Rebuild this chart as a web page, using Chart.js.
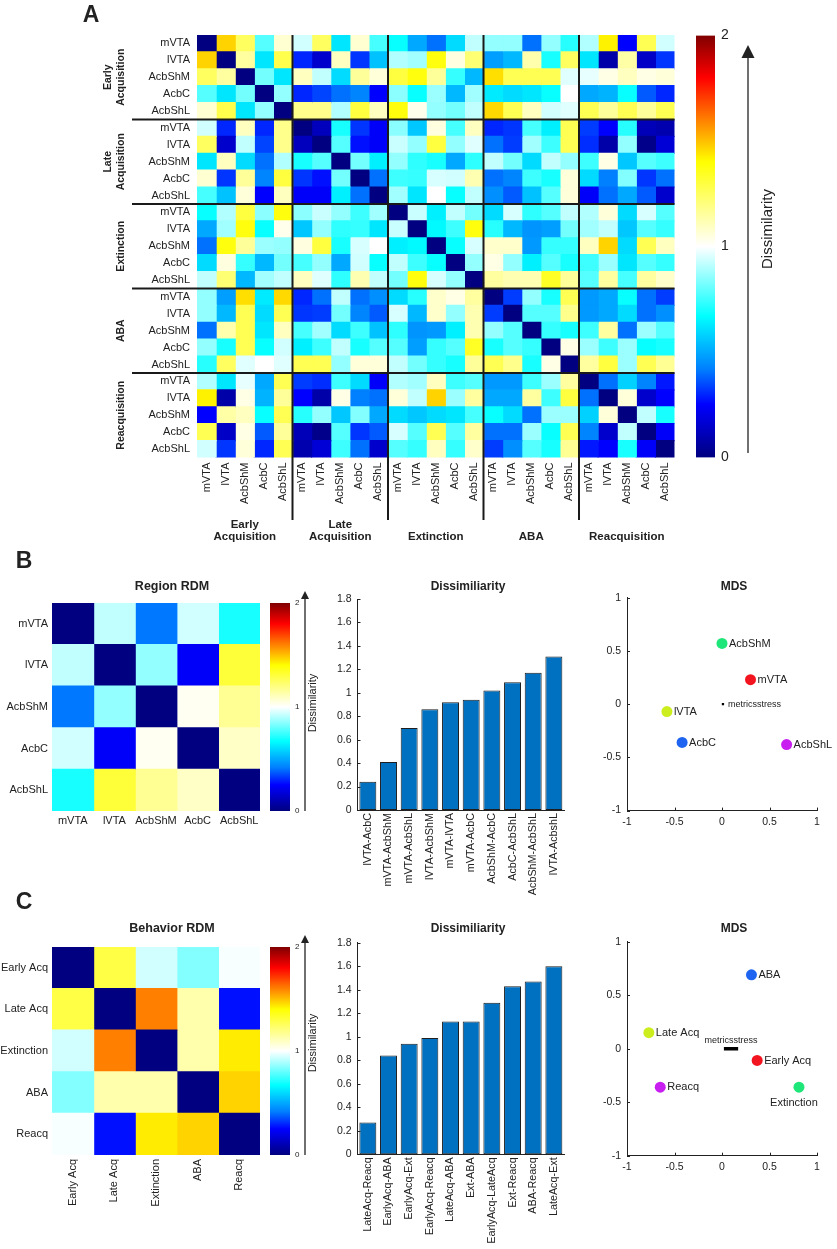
<!DOCTYPE html>
<html>
<head>
<meta charset="utf-8">
<script src="https://cdn.jsdelivr.net/npm/chart.js@4.4.1/dist/chart.umd.min.js"></script>
<style>
  html, body { margin: 0; padding: 0; background: #fff; }
  #page { position: relative; width: 837px; height: 1249px; overflow: hidden; background: #fff; }
  canvas { position: absolute; }
</style>
</head>
<body>
<div id="page"></div>
<script>
// ---------- data ----------
const regions = ['mVTA', 'lVTA', 'AcbShM', 'AcbC', 'AcbShL'];
const phases = ['Early Acquisition', 'Late Acquisition', 'Extinction', 'ABA', 'Reacquisition'];
const phaseLines = [['Early', 'Acquisition'], ['Late', 'Acquisition'], ['Extinction'], ['ABA'], ['Reacquisition']];
const phasesShort = ['Early Acq', 'Late Acq', 'Extinction', 'ABA', 'Reacq'];

// panel A, upper triangle: row r holds columns r+1 .. 24
const upperA = [
  [1.47, 1.25, 0.78, 1.07, 0.94, 1.25, 0.62, 1.07, 0.76, 0.68, 0.5, 0.4, 0.6, 0.92, 0.86, 0.86, 0.4, 0.86, 0.72, 0.9, 1.42, 0.25, 1.27, 0.94],
  [1.15, 0.62, 1.28, 0.3, 0.15, 1.1, 0.32, 0.55, 0.9, 0.88, 1.38, 1.05, 1.22, 0.48, 0.53, 1.13, 0.7, 1.25, 0.62, 0.08, 1.14, 0.14, 0.32],
  [0.82, 0.62, 1.1, 0.92, 0.6, 1.16, 1.06, 1.3, 1.38, 1.16, 0.74, 0.53, 1.45, 1.27, 1.27, 1.27, 0.96, 0.97, 1.04, 1.1, 1.04, 1.06],
  [0.86, 0.3, 0.34, 0.4, 0.43, 0.25, 0.85, 0.68, 0.87, 0.53, 0.88, 0.63, 0.6, 0.62, 0.68, 1.0, 0.5, 0.52, 0.68, 0.37, 0.3],
  [1.18, 1.18, 0.9, 1.3, 1.1, 1.38, 1.03, 0.86, 0.82, 0.92, 1.46, 1.27, 1.1, 0.94, 0.96, 1.27, 1.16, 1.27, 1.16, 1.27],
  [0.12, 0.7, 0.32, 0.24, 0.85, 0.56, 1.05, 0.76, 1.1, 0.3, 0.32, 0.76, 0.64, 1.27, 0.33, 0.25, 0.72, 0.11, 0.09],
  [0.78, 0.27, 0.24, 0.93, 0.86, 1.3, 0.86, 0.96, 0.4, 0.33, 0.88, 0.75, 1.27, 0.31, 0.08, 0.86, 0.02, 0.17],
  [0.82, 0.64, 0.86, 0.73, 0.7, 0.5, 0.73, 0.92, 0.82, 0.6, 0.92, 0.86, 0.75, 1.04, 0.56, 0.78, 0.75],
  [0.4, 0.75, 0.74, 0.95, 0.94, 1.12, 0.4, 0.43, 0.75, 0.7, 1.06, 0.6, 0.42, 0.84, 0.32, 0.4],
  [0.88, 0.62, 1.0, 0.68, 0.92, 0.45, 0.37, 0.55, 0.78, 1.06, 0.24, 0.4, 0.5, 0.37, 0.15],
  [0.93, 0.64, 0.92, 0.82, 0.6, 0.95, 0.73, 0.78, 0.92, 0.9, 1.06, 0.6, 0.95, 0.78],
  [0.66, 0.75, 1.38, 0.72, 0.53, 0.46, 0.48, 0.82, 0.88, 0.92, 0.56, 0.78, 0.74],
  [0.68, 0.95, 1.08, 1.08, 0.47, 0.74, 0.74, 1.1, 1.47, 0.6, 1.27, 1.1],
  [0.86, 1.04, 0.86, 0.64, 0.78, 0.7, 0.75, 0.87, 0.62, 0.78, 0.74],
  [1.15, 1.12, 1.12, 1.34, 1.16, 0.78, 1.15, 0.76, 1.15, 1.08],
  [0.33, 0.86, 0.7, 1.27, 0.47, 0.5, 0.68, 0.4, 0.33],
  [0.78, 0.78, 1.18, 0.47, 0.5, 0.6, 0.4, 0.45],
  [0.74, 0.7, 0.75, 1.15, 0.4, 0.87, 0.78],
  [1.04, 0.87, 0.75, 0.87, 0.68, 0.7],
  [1.15, 1.3, 0.87, 1.27, 1.17],
  [0.4, 0.58, 0.43, 0.28],
  [1.06, 0.15, 0.25],
  [0.92, 0.7],
  [0.24]
];

const upperRegion = [[0.92, 0.41, 0.94, 0.70], [0.86, 0.24, 1.31], [1.02, 1.17], [1.09]];
const upperBehavior = [[1.29, 0.94, 0.84, 0.99], [1.60, 1.13, 0.27], [1.13, 1.43], [1.47]];

const barLabelsB = ['lVTA-AcbC', 'mVTA-AcbShM', 'mVTA-AcbShL', 'lVTA-AcbShM', 'mVTA-lVTA', 'mVTA-AcbC', 'AcbShM-AcbC', 'AcbC-AcbShL', 'AcbShM-AcbShL', 'lVTA-AcbshL'];
const barValuesB = [0.24, 0.41, 0.70, 0.86, 0.92, 0.94, 1.02, 1.09, 1.17, 1.31];
const barLabelsC = ['LateAcq-Reacq', 'EarlyAcq-ABA', 'EarlyAcq-Ext', 'EarlyAcq-Reacq', 'LateAcq-ABA', 'Ext-ABA', 'EarlyAcq-LateAcq', 'Ext-Reacq', 'ABA-Reacq', 'LateAcq-Ext'];
const barValuesC = [0.27, 0.84, 0.94, 0.99, 1.13, 1.13, 1.29, 1.43, 1.47, 1.60];

const mdsXB = [0.30, -0.58, 0.00, -0.42, 0.68];
const mdsYB = [0.23, -0.07, 0.57, -0.36, -0.38];
const mdsXC = [0.37, -0.77, 0.81, 0.31, -0.65];
const mdsYC = [-0.11, 0.15, -0.36, 0.69, -0.36];
const stressB = [[0.01, 0]];
const stressC = [[0.02, 0], [0.17, 0]];

// ---------- styles ----------
const FONT = 'Arial, "Liberation Sans", Helvetica, sans-serif';
const INK = '#222';
const pointColors = ['#f2141e', '#cdee1e', '#1ee678', '#1e64f0', '#c81ef0'];
const cmapVals = [0, 0.25, 0.42, 0.67, 1, 1.4, 1.6, 1.8, 2];
const cmapRGB = [[0, 0, 128], [0, 0, 255], [0, 128, 255], [0, 255, 255], [255, 255, 255], [255, 255, 0], [255, 128, 0], [255, 0, 0], [128, 0, 0]];

Chart.defaults.font.family = FONT;
Chart.defaults.color = INK;

function cmap(v) {
  v = Math.max(0, Math.min(2, v));
  let i = 0;
  while (i < cmapVals.length - 2 && v > cmapVals[i + 1]) i++;
  const t = (v - cmapVals[i]) / (cmapVals[i + 1] - cmapVals[i]);
  const a = cmapRGB[i], b = cmapRGB[i + 1];
  return 'rgb(' + a.map((x, k) => Math.round(x + (b[k] - x) * t)).join(',') + ')';
}

function fullMatrix(upper) {
  const n = upper.length + 1;
  const m = Array.from({length: n}, () => new Array(n).fill(0));
  upper.forEach((row, r) => row.forEach((v, j) => {
    m[r][r + 1 + j] = v;
    m[r + 1 + j][r] = v;
  }));
  return m;
}

function addCanvas(left, top, w, h) {
  const c = document.createElement('canvas');
  c.width = w; c.height = h;
  c.style.left = left + 'px'; c.style.top = top + 'px';
  c.style.width = w + 'px'; c.style.height = h + 'px';
  document.getElementById('page').appendChild(c);
  return c;
}

function text(ctx, s, x, y, font, align, rot) {
  ctx.save();
  ctx.font = font;
  ctx.fillStyle = INK;
  ctx.textAlign = align || 'center';
  ctx.textBaseline = 'middle';
  ctx.translate(x, y);
  if (rot) ctx.rotate(rot);
  ctx.fillText(s, 0, 0);
  ctx.restore();
}

function baseOptions(padding) {
  return {
    animation: false,
    responsive: false,
    devicePixelRatio: 1,
    layout: { padding },
    plugins: { legend: { display: false }, tooltip: { enabled: false } }
  };
}

//------------------------------------------------------------
// Heatmap: one stacked horizontal bar per column

function heatmap(canvas, matrix, rowNames, colNames, opt) {
  const n = matrix.length;
  const datasets = [];
  for (let c = 0; c < n; c++) {
    datasets.push({
      data: matrix.map(() => 1),
      backgroundColor: matrix.map(row => cmap(row[c])),
      borderWidth: 0,
      inflateAmount: 0.6,
      barPercentage: 1,
      categoryPercentage: 1
    });
  }
  const options = baseOptions(opt.padding);
  options.indexAxis = 'y';
  options.scales = {
    x: {
      type: 'linear', stacked: true, min: 0, max: n,
      grid: { display: false, drawTicks: false }, border: { display: false },
      afterBuildTicks: s => { s.ticks = colNames.map((_, i) => ({ value: i + 0.5 })); },
      ticks: {
        autoSkip: false, minRotation: opt.rot, maxRotation: opt.rot, padding: opt.xPad,
        font: { size: 11 }, color: INK, callback: (v, i) => colNames[i]
      },
      afterFit: s => { s.height = opt.xH; s.paddingLeft = 0; s.paddingRight = 0; }
    },
    y: {
      type: 'category', stacked: true,
      grid: { display: false, drawTicks: false }, border: { display: false },
      ticks: { autoSkip: false, padding: opt.yPad, font: { size: 11 }, color: INK, callback: (v, i) => rowNames[i] },
      afterFit: s => { s.width = opt.yW; s.paddingTop = 0; s.paddingBottom = 0; }
    }
  };
  return new Chart(canvas, {
    type: 'bar',
    data: { labels: rowNames.map((_, i) => 'r' + i), datasets },
    options,
    plugins: [{ id: 'heatDecor', afterDraw: opt.decor }]
  });
}

// Colour bar: a floating bar filled with the colormap gradient

function colorbar(canvas, opt) {
  const options = baseOptions(opt.padding);
  options.scales = {
    x: { display: false },
    y: {
      position: 'right', min: 0, max: 2,
      grid: { display: false, drawTicks: false }, border: { display: false },
      ticks: { stepSize: 1, padding: opt.tickPad, font: { size: opt.fontSize }, color: INK },
      afterFit: s => { s.width = opt.axisW; s.paddingTop = 0; s.paddingBottom = 0; }
    }
  };
  return new Chart(canvas, {
    type: 'bar',
    data: {
      labels: ['cb'],
      datasets: [{
        data: [[0, 2]],
        borderWidth: 0,
        barPercentage: 1,
        categoryPercentage: 1,
        backgroundColor: (ctx) => {
          const chart = ctx.chart;
          if (!chart.chartArea) return '#fff';
          const y = chart.scales.y;
          const g = chart.ctx.createLinearGradient(0, y.getPixelForValue(0), 0, y.getPixelForValue(2));
          cmapVals.forEach(v => g.addColorStop(v / 2, cmap(v)));
          return g;
        }
      }]
    },
    options,
    plugins: [{
      id: 'cbDecor',
      afterDraw(chart) {
        const ctx = chart.ctx;
        const a = opt.arrow;
        ctx.save();
        ctx.strokeStyle = INK; ctx.fillStyle = INK; ctx.lineWidth = 1.3;
        ctx.beginPath(); ctx.moveTo(a.x, a.bottom); ctx.lineTo(a.x, a.tip + a.head); ctx.stroke();
        ctx.beginPath();
        ctx.moveTo(a.x, a.tip); ctx.lineTo(a.x - a.half, a.tip + a.head); ctx.lineTo(a.x + a.half, a.tip + a.head);
        ctx.closePath(); ctx.fill();
        ctx.restore();
        text(ctx, 'Dissimilarity', opt.label.x, opt.label.y, opt.label.size + 'px ' + FONT, 'center', -Math.PI / 2);
      }
    }]
  });
}

function inwardTicks(chart, axes) {
  const { ctx, chartArea: a } = chart;
  ctx.save();
  ctx.strokeStyle = INK; ctx.lineWidth = 1;
  if (axes.includes('y')) {
    const y = chart.scales.y;
    y.ticks.forEach(t => {
      const p = Math.round(y.getPixelForValue(t.value)) + 0.5;
      ctx.beginPath(); ctx.moveTo(a.left, p); ctx.lineTo(a.left + 3, p); ctx.stroke();
    });
  }
  if (axes.includes('x')) {
    const x = chart.scales.x;
    x.ticks.forEach(t => {
      const p = Math.round(x.getPixelForValue(t.value)) + 0.5;
      ctx.beginPath(); ctx.moveTo(p, a.bottom); ctx.lineTo(p, a.bottom - 3); ctx.stroke();
    });
  }
  ctx.restore();
}

// Bar chart of sorted pair dissimilarities

function barChart(canvas, labels, values, opt) {
  const options = baseOptions(opt.padding);
  options.scales = {
    x: {
      grid: { display: false, drawTicks: false }, border: { display: true, color: INK, width: 1 },
      ticks: { autoSkip: false, minRotation: 90, maxRotation: 90, padding: 3, font: { size: 10.8 }, color: INK },
      afterFit: s => { s.height = 90; s.paddingLeft = 0; s.paddingRight = 0; }
    },
    y: {
      min: 0, max: 1.8,
      grid: { display: false, drawTicks: false }, border: { display: true, color: INK, width: 1 },
      ticks: { stepSize: 0.2, padding: 6, font: { size: 10.5 }, color: INK, callback: v => String(+v.toFixed(1)) },
      afterFit: s => { s.width = 45; s.paddingTop = 0; s.paddingBottom = 0; }
    }
  };
  return new Chart(canvas, {
    type: 'bar',
    data: {
      labels,
      datasets: [{
        data: values,
        backgroundColor: '#0070c0',
        borderColor: '#1e1e1e',
        borderWidth: 1,
        borderSkipped: false,
        barPercentage: 0.82,
        categoryPercentage: 1
      }]
    },
    options,
    plugins: [{
      id: 'barDecor',
      afterDraw(chart) {
        inwardTicks(chart, ['y']);
        text(chart.ctx, 'Dissimiliarity', opt.title.x, opt.title.y, 'bold 12px ' + FONT);
      }
    }]
  });
}

// MDS scatter

function mdsChart(canvas, names, xs, ys, stress, opt) {
  const options = baseOptions(opt.padding);
  options.scales = {
    x: {
      type: 'linear', min: -1, max: 1,
      grid: { display: false, drawTicks: false }, border: { display: true, color: INK, width: 1 },
      ticks: { stepSize: 0.5, padding: 5, font: { size: 10.5 }, color: INK, callback: v => String(v) },
      afterFit: s => { s.height = 20; s.paddingLeft = 0; s.paddingRight = 0; }
    },
    y: {
      type: 'linear', min: -1, max: 1,
      grid: { display: false, drawTicks: false }, border: { display: true, color: INK, width: 1 },
      ticks: { stepSize: 0.5, padding: 6, font: { size: 10.5 }, color: INK, callback: v => String(v) },
      afterFit: s => { s.width = 35; s.paddingTop = 0; s.paddingBottom = 0; }
    }
  };
  const stressSet = opt.stressLine
    ? { data: stress.map(p => ({ x: p[0], y: p[1] })), showLine: true, borderColor: '#000', borderWidth: 3.5, pointRadius: 0 }
    : { data: stress.map(p => ({ x: p[0], y: p[1] })), pointStyle: 'rect', pointRadius: 1.6, backgroundColor: '#000', borderWidth: 0 };
  return new Chart(canvas, {
    type: 'scatter',
    data: {
      datasets: [
        {
          data: xs.map((x, i) => ({ x, y: ys[i] })),
          pointRadius: 5.5,
          pointBorderWidth: 0,
          pointBackgroundColor: pointColors,
          backgroundColor: pointColors
        },
        stressSet
      ]
    },
    options,
    plugins: [{
      id: 'mdsDecor',
      afterDraw(chart) {
        const ctx = chart.ctx;
        const { x, y } = chart.scales;
        inwardTicks(chart, ['x', 'y']);
        names.forEach((nm, i) => {
          const off = (opt.offsets && opt.offsets[i]) || { dx: 7, dy: 0, align: 'left' };
          text(ctx, nm, x.getPixelForValue(xs[i]) + off.dx, y.getPixelForValue(ys[i]) + off.dy, '11px ' + FONT, off.align);
        });
        const sp = opt.stressText;
        text(ctx, 'metricsstress', x.getPixelForValue(sp.x) + sp.dx, y.getPixelForValue(sp.y) + sp.dy, '9px ' + FONT, sp.align);
        text(ctx, 'MDS', opt.title.x, opt.title.y, 'bold 12px ' + FONT);
      }
    }]
  });
}

//------------------------------------------------------------
// Panel A

const matA = fullMatrix(upperA);
const rowNamesA = [];
phases.forEach(() => regions.forEach(r => rowNamesA.push(r)));

heatmap(addCanvas(0, 0, 690, 575), matA, rowNamesA, rowNamesA, {
  padding: { left: 0, top: 35, right: 15.5, bottom: 0 },
  yW: 197, xH: 117.5, rot: 90, xPad: 5, yPad: 7,
  decor(chart) {
    const { ctx, chartArea: a, scales: { x, y } } = chart;
    ctx.save();
    ctx.strokeStyle = '#1a1a1a';
    ctx.lineWidth = 2;
    for (let k = 1; k < 5; k++) {
      const px = x.getPixelForValue(5 * k);
      const py = y.getPixelForValue(5 * k - 0.5);
      ctx.beginPath(); ctx.moveTo(px, a.top); ctx.lineTo(px, 520); ctx.stroke();
      ctx.beginPath(); ctx.moveTo(132, py); ctx.lineTo(a.right, py); ctx.stroke();
    }
    ctx.restore();
    phaseLines.forEach((lines, g) => {
      const cy = y.getPixelForValue(5 * g + 2);
      const cx = (x.getPixelForValue(5 * g) + x.getPixelForValue(5 * g + 5)) / 2;
      lines.forEach((t, i) => {
        const back = lines.length - 1 - i;
        text(ctx, t, 121 - back * 13, cy, 'bold 10.5px ' + FONT, 'center', -Math.PI / 2);
        text(ctx, t, cx, 537 - back * 12, 'bold 11.5px ' + FONT);
      });
    });
    text(ctx, 'A', 91, 16, 'bold 23px ' + FONT);
    text(ctx, 'B', 24, 562, 'bold 23px ' + FONT);
  }
});

colorbar(addCanvas(680, 0, 157, 480), {
  padding: { left: 16, top: 35.5, right: 92, bottom: 22.5 },
  axisW: 30, fontSize: 14, tickPad: 6,
  arrow: { x: 68, bottom: 453, tip: 45, head: 13, half: 6.5 },
  label: { x: 88, y: 229, size: 15 }
});

//------------------------------------------------------------
// Panel B

heatmap(addCanvas(0, 575, 275, 340), fullMatrix(upperRegion), regions, regions, {
  padding: { left: 0, top: 28, right: 15, bottom: 84 },
  yW: 52, xH: 20, rot: 0, xPad: 3, yPad: 4,
  decor(chart) {
    text(chart.ctx, 'Region RDM', 172, 12, 'bold 12.5px ' + FONT);
    text(chart.ctx, 'C', 24, 328, 'bold 23px ' + FONT);
  }
});

colorbar(addCanvas(262, 575, 80, 260), {
  padding: { left: 8, top: 28, right: 40, bottom: 24 },
  axisW: 12, fontSize: 8, tickPad: 5,
  arrow: { x: 43, bottom: 236, tip: 16, head: 8, half: 4 },
  label: { x: 51, y: 128, size: 11 }
});

barChart(addCanvas(300, 575, 275, 335), barLabelsB, barValuesB, {
  padding: { left: 12.5, top: 24, right: 10.8, bottom: 10 },
  title: { x: 168, y: 12 }
});

mdsChart(addCanvas(575, 575, 262, 265), regions, mdsXB, mdsYB, stressB, {
  padding: { left: 17, top: 22.7, right: 20, bottom: 9.4 },
  stressLine: false,
  stressText: { x: 0.01, y: 0, dx: 5, dy: 0, align: 'left' },
  title: { x: 159, y: 12 }
});

//------------------------------------------------------------
// Panel C

heatmap(addCanvas(0, 915, 275, 334), fullMatrix(upperBehavior), phasesShort, phasesShort, {
  padding: { left: 0, top: 32, right: 15, bottom: 24 },
  yW: 52, xH: 70, rot: 90, xPad: 4, yPad: 4,
  decor(chart) {
    text(chart.ctx, 'Behavior RDM', 172, 14, 'bold 12.5px ' + FONT);
  }
});

colorbar(addCanvas(262, 915, 80, 334), {
  padding: { left: 8, top: 32, right: 40, bottom: 94 },
  axisW: 12, fontSize: 8, tickPad: 5,
  arrow: { x: 43, bottom: 240, tip: 20, head: 8, half: 4 },
  label: { x: 51, y: 128, size: 11 }
});

barChart(addCanvas(300, 915, 275, 334), barLabelsC, barValuesC, {
  padding: { left: 12.5, top: 27.7, right: 10.8, bottom: 4.7 },
  title: { x: 168, y: 14 }
});

mdsChart(addCanvas(575, 915, 262, 275), phasesShort, mdsXC, mdsYC, stressC, {
  padding: { left: 17, top: 26.7, right: 20, bottom: 14.3 },
  stressLine: true,
  stressText: { x: 0.095, y: 0, dx: 0, dy: -8, align: 'center' },
  offsets: [null, null, { dx: -5, dy: 16, align: 'center' }, null, null],
  title: { x: 159, y: 14 }
});
</script>
</body>
</html>
